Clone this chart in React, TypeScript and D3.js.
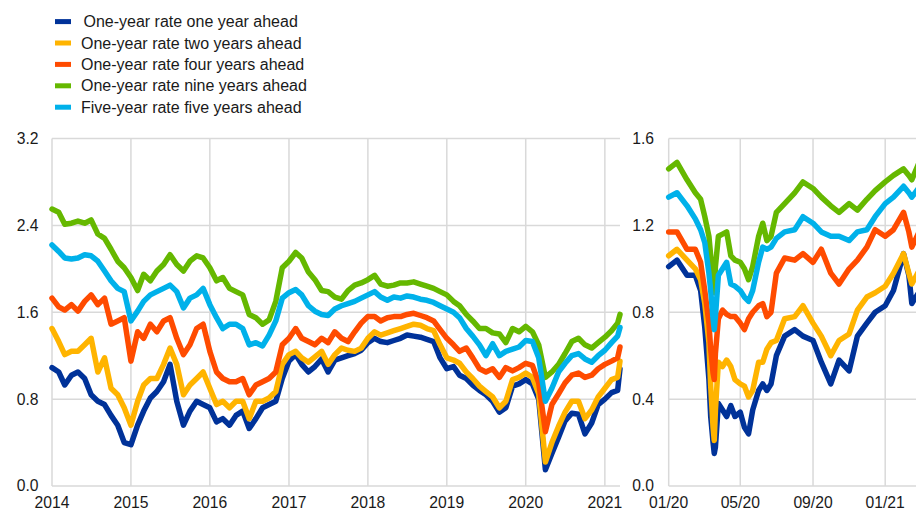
import * as d3 from "d3";

const LEGEND_LABELS = [
  " One-year rate one year ahead",
  "One-year rate two years ahead",
  "One-year rate four years ahead",
  "One-year rate nine years ahead",
  "Five-year rate five years ahead",
];
const COLORS = ["#003299", "#ffb400", "#ff4b00", "#65b800", "#00b1ea"];

// left panel: monthly observations Jan 2014 .. Mar 2021, plus last day
const LEFT_START = "2014-01-01";
const LEFT_END = "2021-03-12";
const LEFT_TICKS = ["2014", "2015", "2016", "2017", "2018", "2019", "2020", "2021"];
const LEFT_Y_TICKS = [0, 0.8, 1.6, 2.4, 3.2];

const L_ONE_1Y = [
  1.09, 1.05, 0.93, 1.02, 1.05, 0.99, 0.84, 0.78, 0.75, 0.65, 0.56, 0.40,
  0.38, 0.56, 0.69, 0.81, 0.87, 0.96, 1.12, 0.78, 0.56, 0.69, 0.78, 0.75,
  0.72, 0.59, 0.62, 0.56, 0.65, 0.69, 0.53, 0.62, 0.72, 0.75, 0.78, 0.99,
  1.15, 1.21, 1.12, 1.05, 1.10, 1.17, 1.05, 1.16, 1.18, 1.20, 1.22, 1.25,
  1.32, 1.36, 1.33, 1.32, 1.34, 1.36, 1.39, 1.38, 1.37, 1.35, 1.33, 1.18,
  1.08, 1.10, 1.02, 0.99, 0.93, 0.88, 0.84, 0.78, 0.68, 0.72, 0.92, 0.94,
  0.98, 0.94, 0.80, 0.15, 0.30, 0.45, 0.60, 0.67, 0.66, 0.48, 0.58, 0.75,
  0.80, 0.86, 0.88, 1.08,
];
const L_ONE_2Y = [
  1.45, 1.33, 1.21, 1.24, 1.24, 1.30, 1.36, 1.05, 1.18, 0.90, 0.84, 0.72,
  0.56, 0.78, 0.93, 0.99, 0.99, 1.12, 1.27, 1.12, 0.84, 0.93, 0.99, 1.05,
  0.90, 0.75, 0.78, 0.72, 0.78, 0.78, 0.62, 0.78, 0.78, 0.81, 0.87, 1.12,
  1.21, 1.24, 1.18, 1.14, 1.19, 1.24, 1.12, 1.21, 1.27, 1.25, 1.24, 1.27,
  1.36, 1.42, 1.39, 1.41, 1.43, 1.45, 1.47, 1.49, 1.48, 1.45, 1.43, 1.30,
  1.18, 1.16, 1.13, 1.05, 0.99, 0.92, 0.87, 0.82, 0.72, 0.78, 0.98, 1.00,
  1.04, 1.00, 0.85, 0.22, 0.40, 0.55, 0.68, 0.78, 0.78, 0.62, 0.70, 0.82,
  0.90, 0.98, 1.00, 1.15,
];
const L_ONE_4Y = [
  1.73, 1.65, 1.62, 1.67, 1.61, 1.70, 1.76, 1.67, 1.73, 1.49, 1.52, 1.55,
  1.15, 1.42, 1.36, 1.49, 1.42, 1.52, 1.55, 1.36, 1.21, 1.30, 1.45, 1.49,
  1.24, 1.05, 0.99, 0.96, 0.96, 0.99, 0.84, 0.93, 0.96, 0.99, 1.05, 1.30,
  1.36, 1.45, 1.36, 1.33, 1.30, 1.36, 1.32, 1.42, 1.36, 1.33, 1.42, 1.50,
  1.56, 1.56, 1.52, 1.55, 1.56, 1.56, 1.58, 1.59, 1.57, 1.55, 1.52, 1.44,
  1.36, 1.30, 1.24, 1.27, 1.18, 1.08, 1.05, 1.08, 1.00, 1.09, 1.06, 1.09,
  1.13, 1.11, 0.95, 0.50, 0.75, 0.85, 0.95, 1.02, 1.04, 1.00, 1.02, 1.08,
  1.12, 1.15, 1.18, 1.28,
];
const L_ONE_9Y = [
  2.55, 2.52, 2.41, 2.42, 2.44, 2.42, 2.45, 2.32, 2.28, 2.18, 2.07, 2.01,
  1.92, 1.80, 1.95, 1.89, 1.98, 2.04, 2.13, 2.04, 1.98, 2.07, 2.12, 2.10,
  2.01, 1.89, 1.92, 1.82, 1.79, 1.76, 1.58, 1.55, 1.49, 1.53, 1.70, 2.01,
  2.07, 2.15, 2.10, 1.97, 1.90, 1.80, 1.79, 1.74, 1.72, 1.80, 1.85, 1.87,
  1.90, 1.94, 1.86, 1.84, 1.85, 1.87, 1.87, 1.88, 1.86, 1.84, 1.82, 1.79,
  1.76, 1.70, 1.66, 1.58, 1.52, 1.45, 1.45, 1.41, 1.40, 1.32, 1.45, 1.42,
  1.47, 1.42, 1.30, 1.00, 1.05, 1.12, 1.22, 1.33, 1.36, 1.30, 1.27, 1.32,
  1.37, 1.43, 1.50, 1.58,
];
const L_FIVE_5Y = [
  2.22, 2.16, 2.10, 2.09, 2.10, 2.13, 2.12, 2.07, 1.98, 1.89, 1.82, 1.79,
  1.52, 1.61, 1.70, 1.76, 1.79, 1.82, 1.85, 1.79, 1.64, 1.73, 1.76, 1.82,
  1.67, 1.55, 1.45, 1.49, 1.49, 1.45, 1.30, 1.32, 1.29, 1.39, 1.52, 1.73,
  1.78, 1.81, 1.76, 1.66, 1.61, 1.58, 1.57, 1.63, 1.66, 1.68, 1.70, 1.73,
  1.76, 1.79, 1.74, 1.71, 1.74, 1.73, 1.75, 1.74, 1.72, 1.71, 1.69, 1.66,
  1.63, 1.60, 1.55, 1.45, 1.38, 1.30, 1.20, 1.31, 1.20, 1.24, 1.26, 1.28,
  1.34, 1.33, 1.18, 0.78, 0.90, 1.05, 1.13, 1.20, 1.22, 1.17, 1.14, 1.20,
  1.25, 1.32, 1.38, 1.46,
];

// right panel: Jan 2020 onwards
const RIGHT_DATES = [
  "2020-01-01", "2020-01-15", "2020-02-01", "2020-02-15", "2020-02-24",
  "2020-03-02", "2020-03-09", "2020-03-12", "2020-03-16", "2020-03-18",
  "2020-03-20", "2020-03-25", "2020-04-01", "2020-04-08", "2020-04-15",
  "2020-04-22", "2020-05-01", "2020-05-08", "2020-05-15", "2020-05-22",
  "2020-06-01", "2020-06-08", "2020-06-15", "2020-06-22", "2020-07-01",
  "2020-07-15", "2020-08-01", "2020-08-15", "2020-09-01", "2020-09-15",
  "2020-10-01", "2020-10-15", "2020-11-01", "2020-11-15", "2020-12-01",
  "2020-12-15", "2021-01-01", "2021-01-15", "2021-02-01", "2021-02-10",
  "2021-02-15", "2021-03-01", "2021-03-12",
];
const RIGHT_TICKS = ["2020-01-01", "2020-05-01", "2020-09-01", "2021-01-01"];
const RIGHT_Y_TICKS = [0, 0.4, 0.8, 1.2, 1.6];

const R_ONE_1Y = [
  1.01, 1.04, 0.97, 0.97, 0.90, 0.73, 0.49, 0.32, 0.20, 0.15, 0.18, 0.38, 0.35, 0.32, 0.37,
  0.32, 0.34, 0.27, 0.24, 0.35, 0.44, 0.47, 0.44, 0.47, 0.60, 0.69, 0.72, 0.69, 0.67, 0.57,
  0.47, 0.58, 0.53, 0.69, 0.75, 0.80, 0.83, 0.90, 1.07, 0.97, 0.84, 0.90, 1.05,
];
const R_ONE_2Y = [
  1.06, 1.09, 1.04, 1.00, 0.95, 0.84, 0.66, 0.46, 0.27, 0.21, 0.35, 0.57, 0.55, 0.58, 0.55,
  0.49, 0.47, 0.46, 0.41, 0.44, 0.57, 0.57, 0.63, 0.66, 0.67, 0.77, 0.78, 0.83, 0.75, 0.69,
  0.60, 0.67, 0.70, 0.81, 0.87, 0.89, 0.92, 0.98, 1.07, 0.98, 0.93, 1.00, 1.15,
];
const R_ONE_4Y = [
  1.17, 1.17, 1.09, 1.09, 1.03, 0.90, 0.75, 0.63, 0.52, 0.49, 0.61, 0.77, 0.81, 0.79, 0.78,
  0.78, 0.75, 0.72, 0.77, 0.80, 0.83, 0.84, 0.78, 0.80, 0.98, 1.05, 1.04, 1.07, 1.03, 1.09,
  0.98, 0.93, 1.00, 1.04, 1.10, 1.18, 1.15, 1.18, 1.26, 1.17, 1.10, 1.18, 1.28,
];
const R_ONE_9Y = [
  1.46, 1.49, 1.41, 1.35, 1.32, 1.24, 1.15, 1.06, 0.92, 0.89, 1.01, 1.15, 1.16, 1.17, 1.06,
  1.04, 1.03, 1.00, 0.95, 1.01, 1.15, 1.21, 1.13, 1.15, 1.26, 1.30, 1.35, 1.40, 1.37, 1.33,
  1.29, 1.26, 1.30, 1.27, 1.32, 1.36, 1.40, 1.43, 1.46, 1.43, 1.41, 1.50, 1.58,
];
const R_FIVE_5Y = [
  1.33, 1.35, 1.29, 1.23, 1.18, 1.12, 0.98, 0.90, 0.77, 0.72, 0.78, 0.97, 1.00, 1.03, 0.93,
  0.92, 0.90, 0.87, 0.85, 0.90, 1.03, 1.10, 1.09, 1.10, 1.14, 1.17, 1.18, 1.24, 1.21, 1.17,
  1.15, 1.15, 1.13, 1.17, 1.18, 1.24, 1.30, 1.33, 1.38, 1.35, 1.33, 1.38, 1.46,
];

const W = 916;
const H = 510;
const TOP = 138.5;
const BOTTOM = 486;
const GRID = "#d9d9d9";
const TEXT = "#1a1a1a";
const FONT = "'Liberation Sans', Arial, sans-serif";

const parse = d3.utcParse("%Y-%m-%d");

type Pt = { d: Date; v: number };

function Panel({
  dates,
  series,
  x,
  y,
  xTicks,
  xFmt,
  yTicks,
  labelX,
}: {
  dates: Date[];
  series: number[][];
  x: d3.ScaleTime<number, number>;
  y: d3.ScaleLinear<number, number>;
  xTicks: Date[];
  xFmt: (d: Date) => string;
  yTicks: number[];
  labelX: number;
}) {
  const [x0, x1] = x.range();
  const line = d3
    .line<Pt>()
    .x((p) => x(p.d))
    .y((p) => y(p.v));
  return (
    <g>
      {yTicks.map((t) => (
        <g key={"y" + t}>
          <line x1={x0} x2={x1} y1={y(t)} y2={y(t)} stroke={GRID} strokeWidth={1.5} />
          <text
            x={labelX}
            y={y(t)}
            dy="0.35em"
            textAnchor="end"
            fontSize={15.7}
            fill={TEXT}
          >
            {d3.format(".1f")(t)}
          </text>
        </g>
      ))}
      {xTicks.map((t) => (
        <g key={"x" + t.getTime()}>
          <line x1={x(t)} x2={x(t)} y1={TOP} y2={BOTTOM} stroke={GRID} strokeWidth={1.5} />
          <text x={x(t)} y={507.5} textAnchor="middle" fontSize={15.7} fill={TEXT}>
            {xFmt(t)}
          </text>
        </g>
      ))}
      {series.map((vals, i) => (
        <path
          key={i}
          d={line(vals.map((v, j) => ({ d: dates[j], v }))) ?? ""}
          fill="none"
          stroke={COLORS[i]}
          strokeWidth={5.5}
          strokeLinejoin="round"
          strokeLinecap="round"
        />
      ))}
    </g>
  );
}

export default function App() {
  const leftDates = [
    ...d3.utcMonth.range(parse(LEFT_START)!, parse("2021-03-02")!),
    parse(LEFT_END)!,
  ];
  const xl = d3
    .scaleUtc()
    .domain([parse(LEFT_START)!, parse(LEFT_END)!])
    .range([52, 620]);
  const yl = d3.scaleLinear().domain([0, 3.2]).range([BOTTOM, TOP]);

  const rightDates = RIGHT_DATES.map((s) => parse(s)!);
  const xr = d3
    .scaleUtc()
    .domain([parse("2020-01-01")!, parse("2021-03-12")!])
    .range([668.7, 926.6]);
  const yr = d3.scaleLinear().domain([0, 1.6]).range([BOTTOM, TOP]);

  return (
    <svg
      width={W}
      height={H}
      style={{ position: "absolute", left: 0, top: 0, display: "block", background: "#fff" }}
      fontFamily={FONT}
    >
      {LEGEND_LABELS.map((lab, i) => (
        <g key={lab} transform={`translate(0,${21.6 + i * 21.4})`}>
          <rect x={55} y={-2.5} width={16} height={5} fill={COLORS[i]} />
          <text x={i === 0 ? 79 : 81} dy="0.35em" fontSize={16} fill={TEXT} xmlSpace="preserve">
            {lab}
          </text>
        </g>
      ))}
      <Panel
        dates={leftDates}
        series={[L_ONE_1Y, L_ONE_2Y, L_ONE_4Y, L_ONE_9Y, L_FIVE_5Y]}
        x={xl}
        y={yl}
        xTicks={LEFT_TICKS.map((s) => parse(s + "-01-01")!)}
        xFmt={d3.utcFormat("%Y")}
        yTicks={LEFT_Y_TICKS}
        labelX={38.5}
      />
      <Panel
        dates={rightDates}
        series={[R_ONE_1Y, R_ONE_2Y, R_ONE_4Y, R_ONE_9Y, R_FIVE_5Y]}
        x={xr}
        y={yr}
        xTicks={RIGHT_TICKS.map((s) => parse(s)!)}
        xFmt={d3.utcFormat("%m/%y")}
        yTicks={RIGHT_Y_TICKS}
        labelX={654}
      />
    </svg>
  );
}
